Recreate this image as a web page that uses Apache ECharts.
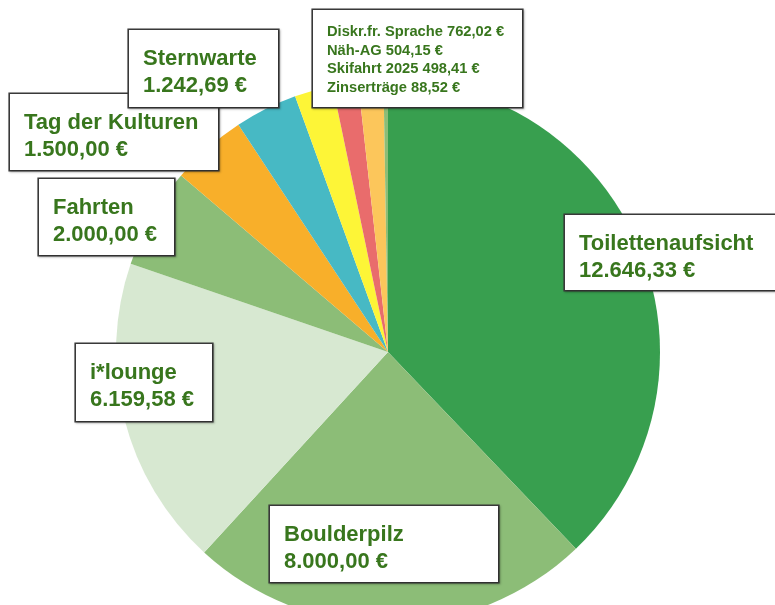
<!DOCTYPE html>
<html>
<head>
<meta charset="utf-8">
<script src="https://cdn.jsdelivr.net/npm/echarts@6/dist/echarts.min.js"></script>
<style>
  html, body { margin: 0; padding: 0; background: #fff; }
  #chart { width: 775px; height: 605px; }
</style>
</head>
<body>
<div id="chart"></div>
<script>
// ---- data ----
const categories = ['Toilettenaufsicht', 'Boulderpilz', 'i*lounge', 'Fahrten', 'Tag der Kulturen',
  'Sternwarte', 'Diskr.fr. Sprache', 'Näh-AG', 'Skifahrt 2025', 'Zinserträge'];
const amounts = [12646.33, 8000.00, 6159.58, 2000.00, 1500.00, 1242.69, 762.02, 504.15, 498.41, 88.52];
// the four smallest slices share one combined label box
const groupedLabelIdx = [6, 7, 8, 9];

// ---- styles / layout (kept separate from data) ----
const sliceColors = ['#389f4f', '#8cbd77', '#d7e8d1', '#8cbd77', '#f8af2a',
  '#47b9c4', '#fdf537', '#e96c6c', '#fcc65b', '#8cbd77'];
// top-left corner and size of each label box
const labelBoxes = {
  0: { x: 565, y: 215, w: 232, h: 75 },
  1: { x: 270, y: 506, w: 228, h: 76 },
  2: { x: 76,  y: 344, w: 136, h: 77 },
  3: { x: 39,  y: 179, w: 135, h: 76 },
  4: { x: 10,  y: 94,  w: 208, h: 76 },
  5: { x: 129, y: 30,  w: 149, h: 77 },
  6: { x: 313, y: 10,  w: 209, h: 97 }
};

function fmtEuro(v) {
  const parts = v.toFixed(2).split('.');
  const intPart = parts[0].replace(/\B(?=(\d{3})+(?!\d))/g, '.');
  return intPart + ',' + parts[1] + ' €';
}

const textColor = '#38761d';
const fontFamily = "'Liberation Sans', Arial, sans-serif";

const data = categories.map((name, i) => {
  const item = { name: name, value: amounts[i], itemStyle: { color: sliceColors[i] } };
  const box = labelBoxes[i];
  if (!box) {
    item.label = { show: false };
  } else if (i === groupedLabelIdx[0]) {
    item.label = {
      show: true,
      fontSize: 14.7,
      lineHeight: 18.5,
      padding: [13, 14, 10, 14],
      width: box.w - 28,
      height: box.h - 23,
      overflow: 'none',
      formatter: () => groupedLabelIdx.map(j => categories[j] + ' ' + fmtEuro(amounts[j])).join('\n')
    };
  } else {
    item.label = {
      show: true,
      width: box.w - 28,
      height: box.h - 23,
      overflow: 'none',
      formatter: (p) => p.name + '\n' + fmtEuro(p.value)
    };
  }
  return item;
});

const chart = echarts.init(document.getElementById('chart'), null, { renderer: 'canvas' });
chart.setOption({
  backgroundColor: '#ffffff',
  animation: false,
  series: [{
    type: 'pie',
    center: [388, 352],
    radius: 272,
    startAngle: 90,
    clockwise: true,
    avoidLabelOverlap: false,
    data: data,
    itemStyle: { borderWidth: 0 },
    label: {
      position: 'outside',
      color: textColor,
      fontFamily: fontFamily,
      fontWeight: 'bold',
      fontSize: 22,
      lineHeight: 27,
      align: 'left',
      verticalAlign: 'top',
      backgroundColor: '#ffffff',
      borderColor: '#3a3a3a',
      borderWidth: 1.6,
      padding: [15, 14, 8, 14],
      shadowColor: 'rgba(0,0,0,0.25)',
      shadowBlur: 2,
      shadowOffsetX: 1,
      shadowOffsetY: 1
    },
    labelLine: { show: false },
    labelLayout: function (params) {
      const box = labelBoxes[params.dataIndex];
      if (!box) return {};
      return { x: box.x, y: box.y, align: 'left', verticalAlign: 'top', hideOverlap: false };
    },
    emphasis: { disabled: true }
  }]
});
</script>
</body>
</html>
